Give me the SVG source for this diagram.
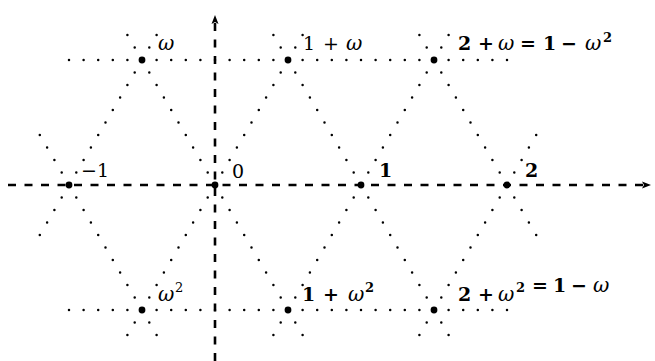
<svg xmlns="http://www.w3.org/2000/svg" width="655" height="361" viewBox="0 0 655 361">
<defs>
<style>
.dot{fill:none;stroke:#000;stroke-width:2.5;stroke-linecap:round;stroke-dasharray:0 14.475}
.hdot{fill:none;stroke:#000;stroke-width:2.5;stroke-linecap:round;stroke-dasharray:0 14.6}
.axis{fill:none;stroke:#000;stroke-width:2.6;stroke-dasharray:8 8.5}
.pt{fill:#000}
text{font-family:"DejaVu Serif","Liberation Serif",serif;font-size:19px;fill:#000}
.b{font-weight:bold}
.it{font-style:italic;font-weight:normal;font-size:20px}
.sup{font-size:13px}
</style>
<marker id="arr" markerWidth="10" markerHeight="8" refX="0" refY="0" viewBox="-9 -4 10 8" orient="auto" markerUnits="userSpaceOnUse">
<path d="M1,0 L-8,-3.5 L-6,0 L-8,3.5 Z" fill="#000"/>
</marker>
</defs>
<g id="axes">
<path class="axis" d="M8 185 H650" marker-end="url(#arr)"/>
<path class="axis" d="M215 361 V16" marker-end="url(#arr)"/>
</g>
<g id="connectors">
<path class="hdot" d="M69 60 H507.2"/>
<path class="hdot" d="M69 310 H507.2"/>
<path class="dot" d="M39.8 235 L156.75 34.75"/>
<path class="dot" d="M127.4 335 L302.75 34.75"/>
<path class="dot" d="M273.4 335 L448.75 34.75"/>
<path class="dot" d="M419.4 335 L536.35 134.75"/>
<path class="dot" d="M39.8 135 L156.75 335.25"/>
<path class="dot" d="M127.4 35 L302.75 335.25"/>
<path class="dot" d="M273.4 35 L448.75 335.25"/>
<path class="dot" d="M419.4 35 L536.35 235.25"/>
</g>
<g id="n-m1"><circle class="pt" cx="69" cy="185" r="3.4"/><text x="81" y="177">−1</text></g>
<g id="n-0"><circle class="pt" cx="215" cy="185" r="3.4"/><text x="232" y="178">0</text></g>
<g id="n-1"><circle class="pt" cx="361" cy="185" r="3.4"/><text class="b" x="379" y="177">1</text></g>
<g id="n-2"><circle class="pt" cx="507" cy="185" r="3.4"/><text class="b" x="525" y="177">2</text></g>
<g id="n-w"><circle class="pt" cx="142" cy="60" r="3.4"/><text class="it" x="158" y="50">ω</text></g>
<g id="n-1w"><circle class="pt" cx="288" cy="60" r="3.4"/><text y="50"><tspan x="303">1</tspan><tspan x="323">+</tspan><tspan class="it" x="346">ω</tspan></text></g>
<g id="n-2w"><circle class="pt" cx="434" cy="60" r="3.4"/><text class="b" y="50"><tspan x="458">2</tspan><tspan x="478">+</tspan><tspan class="it" x="498">ω</tspan><tspan x="520">=</tspan><tspan x="543">1</tspan><tspan x="561">−</tspan><tspan class="it" x="585">ω</tspan><tspan class="sup" x="603" y="42">2</tspan></text></g>
<g id="n-w2"><circle class="pt" cx="142" cy="310" r="3.4"/><text y="301"><tspan class="it" x="158">ω</tspan><tspan class="sup" x="175" y="292">2</tspan></text></g>
<g id="n-1w2"><circle class="pt" cx="288" cy="310" r="3.4"/><text class="b" y="301"><tspan x="302">1</tspan><tspan x="323">+</tspan><tspan class="it" x="348">ω</tspan><tspan class="sup" x="365" y="292">2</tspan></text></g>
<g id="n-2w2"><circle class="pt" cx="434" cy="310" r="3.4"/><text class="b" y="301"><tspan x="458">2</tspan><tspan x="478">+</tspan><tspan class="it" x="498">ω</tspan><tspan class="sup" x="516" y="292">2</tspan><tspan x="532">=</tspan><tspan x="553">1</tspan><tspan x="571">−</tspan><tspan class="it" x="593">ω</tspan></text></g>
</svg>
